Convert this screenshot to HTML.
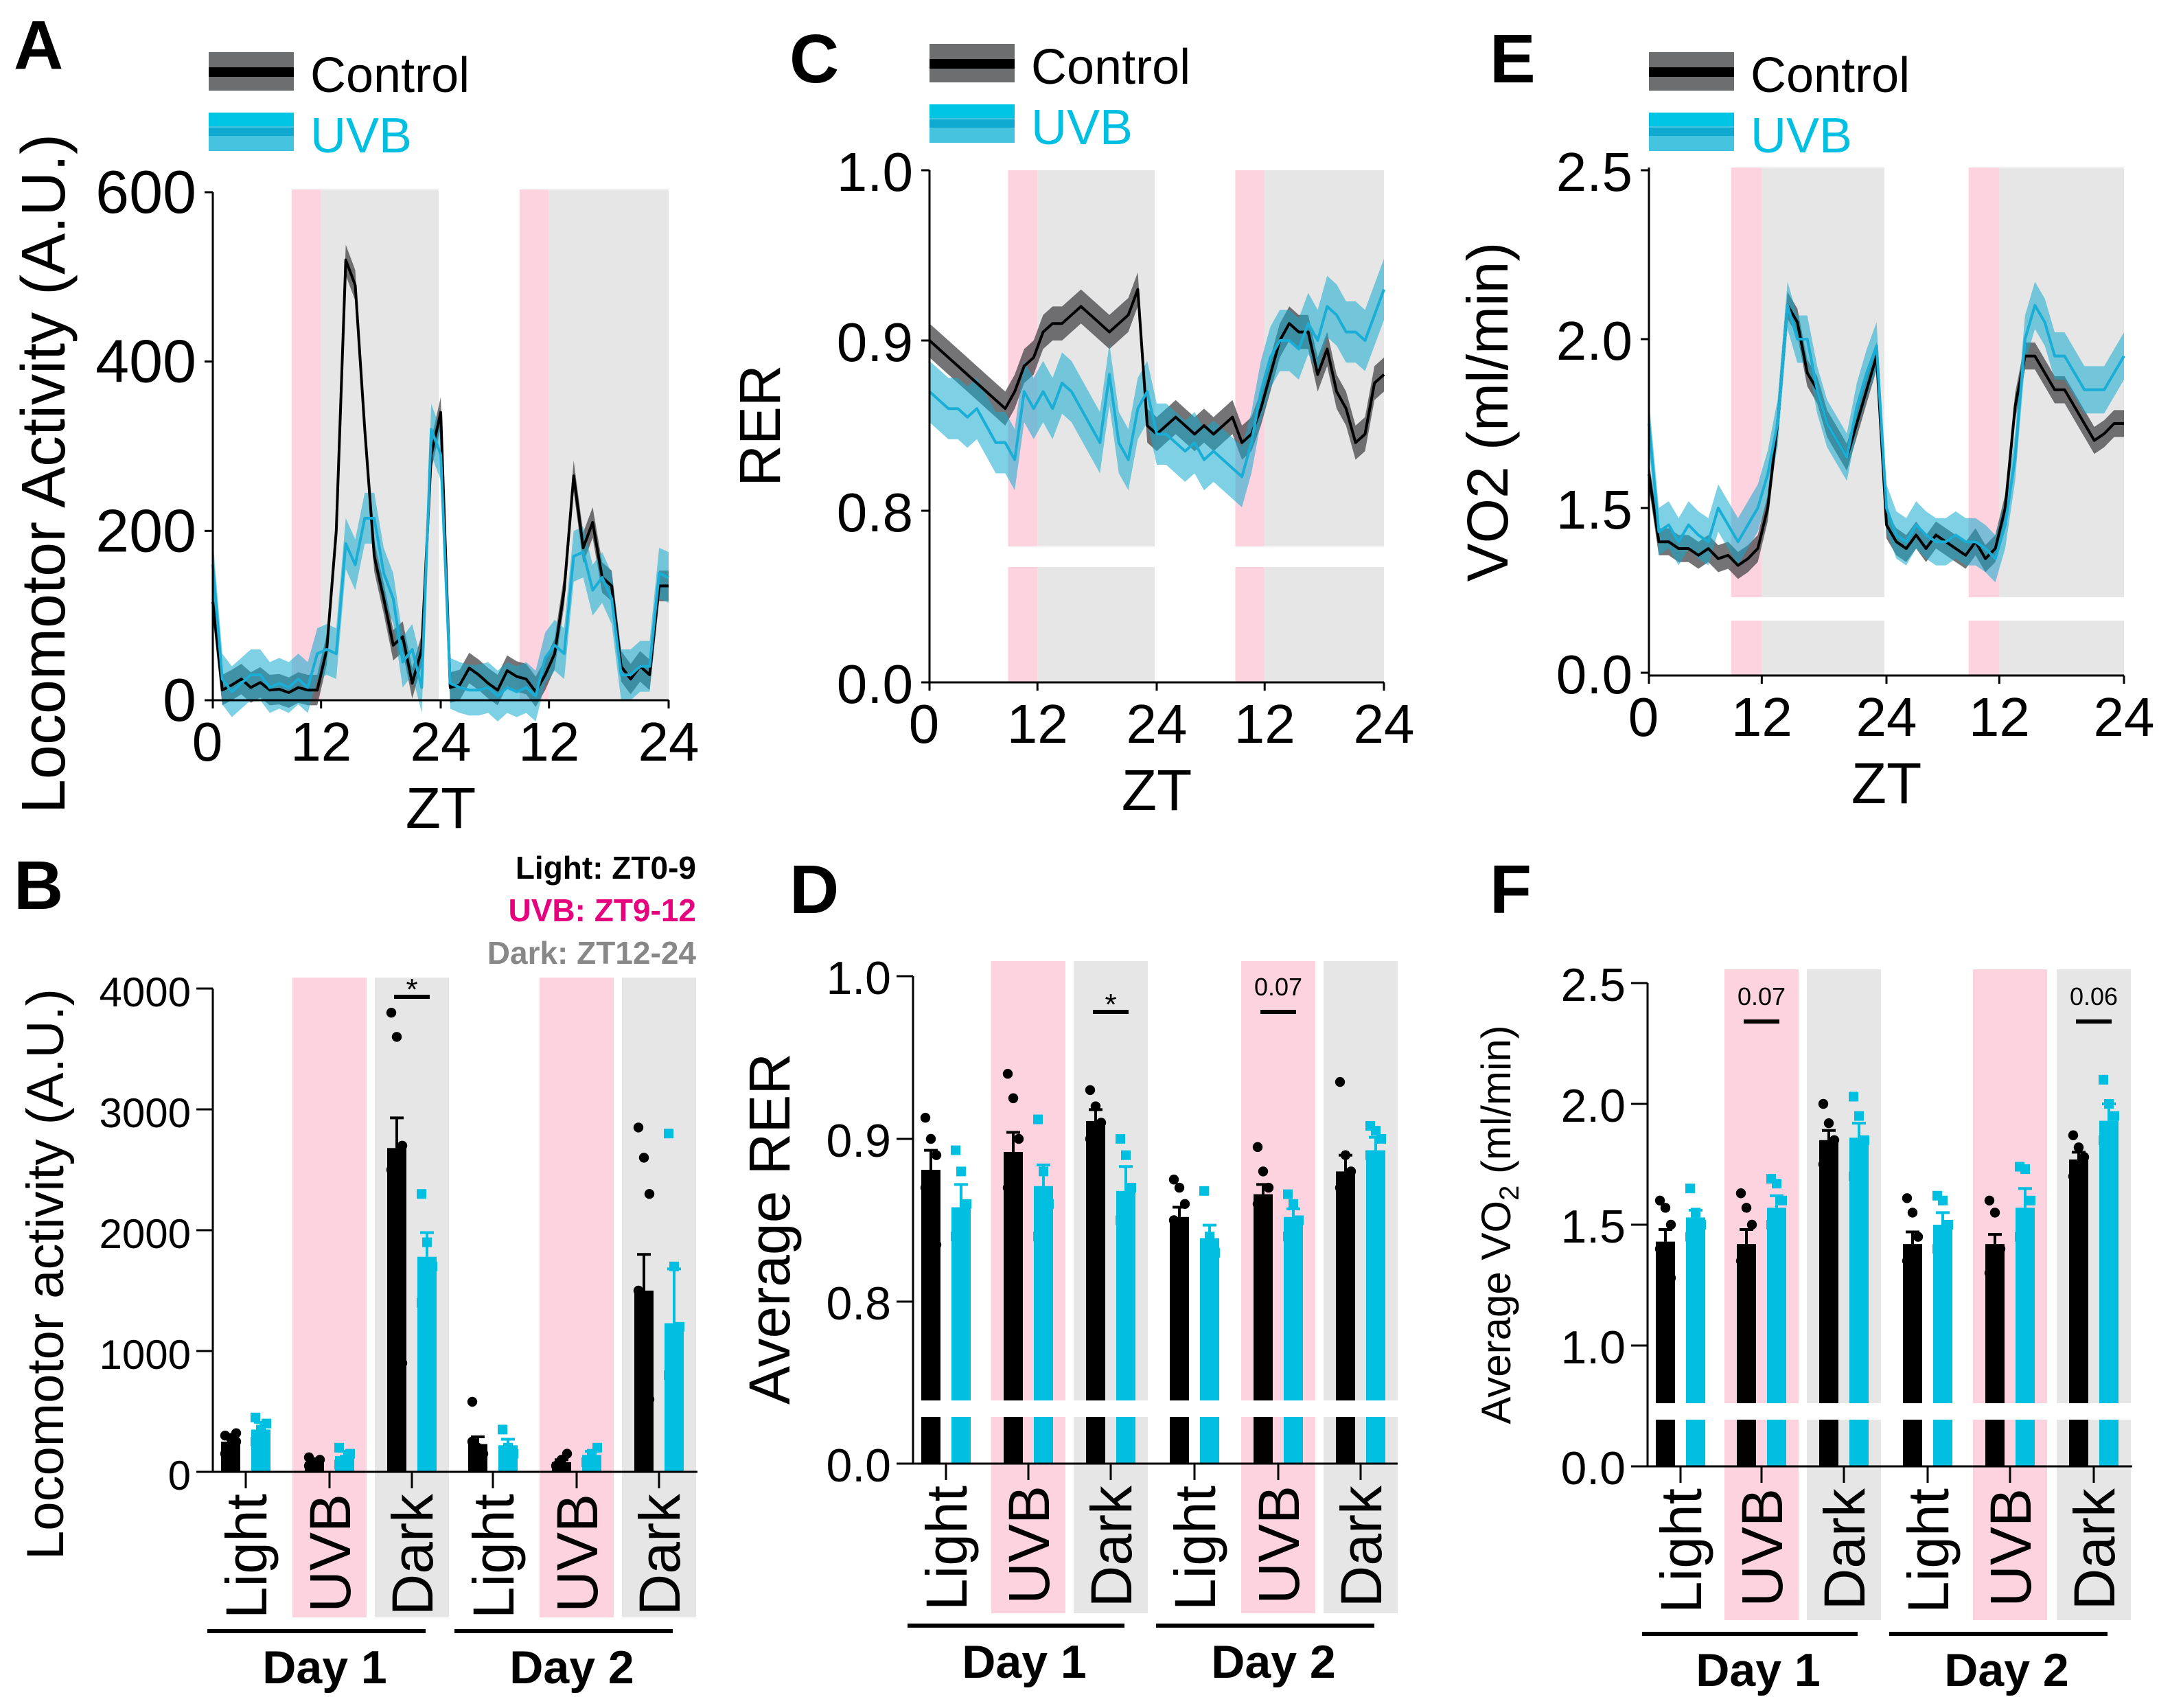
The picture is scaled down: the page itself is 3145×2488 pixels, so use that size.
<!DOCTYPE html>
<html><head><meta charset="utf-8"><style>
html,body{margin:0;padding:0;background:#fff;}
svg{display:block;font-family:"Liberation Sans",Arial,sans-serif;}
</style></head><body>
<svg id="fig" width="3145" height="2488" viewBox="0 0 1572.5 1244" xmlns="http://www.w3.org/2000/svg">
<rect width="1572.5" height="1244" fill="#fff"/>
</svg>
<script>
// ---------- Panel A: locomotor activity (hourly, 2 days) ----------
const aCtrl=[116,12,18,25,15,21,12,13,9,15,12,12,60,200,520,490,320,170,120,65,75,20,60,290,340,15,18,38,30,20,12,35,28,25,10,30,55,130,265,180,210,145,135,40,25,40,30,135,135];
const aUvb=[160,25,10,20,30,30,15,20,15,25,15,55,60,55,185,160,215,215,150,120,45,60,15,320,290,20,15,12,12,15,5,15,10,15,5,50,65,55,170,175,130,145,120,30,30,40,40,150,145];
const aCtrlErr=[18];
const aUvbErr=[30];
// ---------- Panel C: RER ----------
const cCtrl=[.9,.895,.89,.885,.88,.875,.87,.865,.86,.87,.885,.89,.905,.91,.91,.915,.92,.915,.91,.905,.91,.915,.93,.85,.845,.85,.855,.85,.845,.85,.845,.85,.855,.84,.845,.86,.88,.9,.91,.905,.905,.88,.895,.87,.86,.84,.845,.875,.88];
const cUvb=[.87,.865,.86,.86,.855,.86,.85,.84,.84,.83,.87,.86,.87,.86,.875,.87,.86,.85,.84,.88,.84,.83,.86,.87,.845,.845,.84,.835,.84,.83,.835,.83,.825,.82,.84,.87,.89,.9,.9,.895,.91,.9,.92,.915,.905,.905,.9,.915,.93];
const cCtrlErr=[0.01];
const cUvbErr=[0.018];
// ---------- Panel E: VO2 ----------
const eCtrl=[1.6,1.4,1.4,1.38,1.38,1.36,1.38,1.35,1.36,1.33,1.35,1.38,1.5,1.75,2.1,2.05,1.9,1.85,1.75,1.7,1.65,1.75,1.85,1.95,1.45,1.4,1.38,1.42,1.38,1.42,1.4,1.38,1.36,1.4,1.35,1.38,1.5,1.8,1.95,1.95,1.9,1.85,1.85,1.8,1.75,1.7,1.72,1.75,1.75];
const eUvb=[1.75,1.43,1.45,1.4,1.45,1.42,1.4,1.5,1.45,1.4,1.45,1.5,1.6,1.75,2.1,2.0,2.0,1.85,1.75,1.7,1.65,1.8,1.9,1.98,1.5,1.42,1.4,1.45,1.42,1.4,1.4,1.42,1.4,1.4,1.38,1.35,1.45,1.65,2.0,2.1,2.05,1.95,1.95,1.9,1.85,1.85,1.85,1.9,1.95];
const eCtrlErr=[0.04];
const eUvbErr=[0.07];
const timeTickLabels=["0","12","24","12","24"];
// ---------- Bar panels ----------
const barCategories=["Light","UVB","Dark","Light","UVB","Dark"];
const bCtrl=[250,80,2680,230,80,1500];
const bUvb=[350,130,1780,220,140,1230];
const bCtrlErr=[40,20,250,60,20,300];
const bUvbErr=[60,40,200,50,30,450];
const bCtrlDots=[[150,200,250,300,280,320],[50,80,100,120,60],[3800,3600,2700,2500,1600,900],[580,200,150,250],[50,100,150],[2850,2600,2300,1500,900,600]];
const bUvbDots=[[250,300,400,450,350],[60,100,150,200],[2300,1900,1700,1400,1100],[350,200,150],[80,150,200],[2800,1700,1200,800,400]];
const bTicks=[0,1000,2000,3000,4000];
const dCtrl=[.881,.892,.911,.852,.866,.88];
const dUvb=[.858,.871,.868,.839,.852,.893];
const dCtrlErr=[.012,.012,.007,.006,.006,.01];
const dUvbErr=[.014,.013,.015,.008,.005,.008];
const dCtrlDots=[[.913,.9,.89,.87,.86,.835],[.94,.925,.9,.87,.86],[.93,.92,.91,.9,.885],[.875,.87,.86,.85,.84],[.895,.88,.87,.86,.84],[.935,.89,.88,.87,.84]];
const dUvbDots=[[.893,.88,.86,.84,.82],[.912,.88,.86,.84],[.9,.89,.87,.85,.82],[.868,.84,.83],[.866,.86,.85,.84],[.908,.905,.9,.89,.88]];
const dTicks=[0.8,0.9,1.0];
const fCtrl=[1.43,1.42,1.85,1.42,1.42,1.77];
const fUvb=[1.53,1.57,1.86,1.5,1.57,1.93];
const fCtrlErr=[.05,.06,.04,.05,.04,.03];
const fUvbErr=[.03,.05,.06,.05,.08,.07];
const fCtrlDots=[[1.6,1.57,1.5,1.4,1.33,1.28],[1.63,1.57,1.5,1.35,1.25],[2.0,1.92,1.85,1.75,1.7],[1.61,1.55,1.45,1.35,1.28],[1.6,1.55,1.4,1.3,1.25],[1.87,1.82,1.78,1.7,1.65]];
const fUvbDots=[[1.65,1.55,1.5,1.45],[1.69,1.67,1.6,1.5,1.42],[2.03,1.95,1.85,1.7,1.65],[1.62,1.6,1.5,1.4,1.33],[1.74,1.73,1.6,1.45,1.33],[2.1,2.0,1.95,1.85,1.8]];
const fTicks=[1.0,1.5,2.0,2.5];

const NS="http://www.w3.org/2000/svg";
const svg=document.getElementById('fig');
const CY="#00bfe0", CYL="#1aaed6", PINK="#fdd3e0", GRAY="#e6e6e6";
function el(tag,attrs,parent){const e=document.createElementNS(NS,tag);for(const k in attrs)e.setAttribute(k,attrs[k]);(parent||svg).appendChild(e);return e;}
function txt(s,x,y,size,opts,parent){opts=opts||{};const t=el('text',{x:x,y:y,'font-size':size,fill:opts.fill||'#000','text-anchor':opts.anchor||'middle','font-weight':opts.bold?'bold':'normal'},parent);if(opts.rot)t.setAttribute('transform','rotate(-90 '+x+' '+y+')');t.textContent=s;return t;}

function panelLetter(g,s,x,y){const t=txt(s,x,y,50,{bold:true,anchor:'start'},g);}

function legend(g,x,y){
  el('rect',{x:x,y:y-15,width:62,height:28,fill:'#6d6e70'},g);
  el('rect',{x:x,y:y-4,width:62,height:7,fill:'#000'},g);
  const t1=txt('Control',x+74,y+14,36,{anchor:'start'},g);
  el('rect',{x:x,y:y+29,width:62,height:28,fill:'#46c3df'},g);
  el('rect',{x:x,y:y+29,width:62,height:10,fill:'#00c4e4'},g);
  el('rect',{x:x,y:y+40,width:62,height:6,fill:'#10a9cf'},g);
  const t2=txt('UVB',x+74,y+58,36,{anchor:'start',fill:CY},g);
}

function timePanel(cfg){
  const g=el('g',{});
  const xs=h=>cfg.x0+(h/48)*(cfg.x1-cfg.x0);
  cfg.segs.forEach(sg=>{
    [0,24].forEach(off=>{
      el('rect',{x:xs(off+8.3),y:sg[0],width:xs(off+11.4)-xs(off+8.3),height:sg[1]-sg[0],fill:PINK},g);
      el('rect',{x:xs(off+11.4),y:sg[0],width:xs(off+24)-xs(off+11.4)-(off===0?1.5:0),height:sg[1]-sg[0],fill:GRAY},g);
    });
  });
  function band(data,err,fill,name){
    let up=data.map((v,i)=>xs(i)+','+cfg.y(v+err[0])),dn=data.map((v,i)=>xs(i)+','+cfg.y(v-err[0])).reverse();
    const p=el('polygon',{points:up.concat(dn).join(' '),fill:fill},g);
  }
  function line(data,col,w,name){
    const p=el('polyline',{points:data.map((v,i)=>xs(i)+','+cfg.y(v)).join(' '),fill:'none',stroke:col,'stroke-width':w,'stroke-linejoin':'round'},g);
  }
  band(cfg.ctrl,cfg.ctrlErr,'rgba(70,70,72,0.75)','control-band');
  band(cfg.uvb,cfg.uvbErr,'rgba(20,170,205,0.55)','uvb-band');
  line(cfg.ctrl,'#000',2,'control-line');
  line(cfg.uvb,CYL,2,'uvb-line');
  el('line',{x1:cfg.x0,y1:cfg.yTop,x2:cfg.x0,y2:cfg.yBase,stroke:'#000','stroke-width':1.5},g);
  el('line',{x1:cfg.x0,y1:cfg.yBase,x2:cfg.x1,y2:cfg.yBase,stroke:'#000','stroke-width':1.5},g);
  cfg.yt.forEach((v,i)=>{const yy=cfg.yTickPos(v);el('line',{x1:cfg.x0-6,y1:yy,x2:cfg.x0,y2:yy,stroke:'#000','stroke-width':1.5},g);
    const t=txt(cfg.ytl[i],cfg.x0-12,yy+15,cfg.tsize||40,{anchor:'end'},g);});
  [0,11.4,24,35.4,48].forEach((h,i)=>{el('line',{x1:xs(h),y1:cfg.yBase,x2:xs(h),y2:cfg.yBase+6,stroke:'#000','stroke-width':1.5},g);
    const t=txt(timeTickLabels[i],xs(h)+(i==0?-4:0),cfg.yBase+44,40,{},g);});
  const xt=txt('ZT',(cfg.x0+cfg.x1)/2,cfg.yBase+93,42,{},g);
  const yt=txt(cfg.ytitle,cfg.ytx,cfg.yty,cfg.ytsize,{rot:true},g);
  panelLetter(g,cfg.letter,cfg.lx,cfg.ly);
  legend(g,cfg.legx,cfg.legy);
}

timePanel({name:'panel-a-locomotor-timecourse',x0:155,x1:487,yTop:140,yBase:510,y:v=>510-v/600*370,yTickPos:v=>510-v/600*370,tsize:44,
  yt:[0,200,400,600],ytl:['0','200','400','600'],segs:[[138,510]],ctrl:aCtrl,uvb:aUvb,ctrlErr:aCtrlErr,uvbErr:aUvbErr,
  ytitle:'Locomotor Activity (A.U.)',ytx:47,yty:345,ytsize:45,letter:'A',lx:10,ly:50,legx:152,legy:53});
timePanel({name:'panel-c-rer-timecourse',x0:677,x1:1008,yTop:124,yBase:497,y:v=>248-(v-0.9)*1240,
  yTickPos:v=>v===0?497:248-(v-0.9)*1240,yt:[0,0.8,0.9,1.0],ytl:['0.0','0.8','0.9','1.0'],segs:[[124,398],[413,497]],
  ctrl:cCtrl,uvb:cUvb,ctrlErr:cCtrlErr,uvbErr:cUvbErr,ytitle:'RER',ytx:568,yty:310,ytsize:42,letter:'C',lx:575,ly:60,legx:677,legy:47});
timePanel({name:'panel-e-vo2-timecourse',x0:1201,x1:1547,yTop:122,yBase:492,y:v=>247-(v-2)*246,
  yTickPos:v=>v===0?490:247-(v-2)*246,yt:[0,1.5,2.0,2.5],ytl:['0.0','1.5','2.0','2.5'],segs:[[122,435],[452,492]],
  ctrl:eCtrl,uvb:eUvb,ctrlErr:eCtrlErr,uvbErr:eUvbErr,ytitle:'VO2 (ml/min)',ytx:1098,yty:300,ytsize:42,letter:'E',lx:1085,ly:60,legx:1201,legy:53});

function barPanel(cfg){
  const g=el('g',{});
  const bw=14;
  [1,2,4,5].forEach(i=>{const c=cfg.cx[i];el('rect',{x:c-27,y:cfg.shTop,width:54,height:cfg.shBot-cfg.shTop,fill:(i%3==1)?PINK:GRAY},g);});
  for(let i=0;i<6;i++){
    [[cfg.ctrl,cfg.ctrlErr,cfg.ctrlDots,'#000',-11,'control'],[cfg.uvb,cfg.uvbErr,cfg.uvbDots,CY,11,'uvb']].forEach(s=>{
      const x=cfg.cx[i]+s[4],v=s[0][i],yv=cfg.y(v);
      const r=el('rect',{x:x-bw/2,y:yv,width:bw,height:cfg.yBase-yv,fill:s[3]},g);
      
      el('line',{x1:x,y1:yv,x2:x,y2:cfg.y(v+s[1][i]),stroke:s[3],'stroke-width':2},g);
      el('line',{x1:x-5,y1:cfg.y(v+s[1][i]),x2:x+5,y2:cfg.y(v+s[1][i]),stroke:s[3],'stroke-width':2},g);
      s[2][i].forEach((d,k)=>{const dx=x+((k%3)-1)*4;
        if(s[5]=='control'){const c=el('circle',{cx:dx,cy:cfg.y(d),r:3.6,fill:'#000'},g);}
        else{const c=el('rect',{x:dx-3.5,y:cfg.y(d)-3.5,width:7,height:7,fill:CY},g);}
      });
    });
  }
  if(cfg.brk){el('rect',{x:cfg.x0+2,y:cfg.brk[0],width:cfg.x1-cfg.x0,height:cfg.brk[1]-cfg.brk[0],fill:'#fff'},g);}
  el('line',{x1:cfg.x0,y1:cfg.yTop,x2:cfg.x0,y2:cfg.yBase,stroke:'#000','stroke-width':1.5},g);
  el('line',{x1:cfg.x0-12,y1:cfg.yBase,x2:cfg.x1,y2:cfg.yBase,stroke:'#000','stroke-width':1.5},g);
  cfg.ticks.forEach((v,i)=>{const yy=cfg.y(v);el('line',{x1:cfg.x0-12,y1:yy,x2:cfg.x0,y2:yy,stroke:'#000','stroke-width':1.5},g);
    const t=txt(cfg.tl[i],cfg.x0-16,yy+13,cfg.tsize,{anchor:'end'},g);});
  if(cfg.zeroLabel){const t=txt(cfg.zeroLabel,cfg.x0-16,cfg.yBase+13,cfg.tsize,{anchor:'end'},g);}
  barCategories.forEach((c,i)=>{const x=cfg.cx[i];el('line',{x1:x,y1:cfg.yBase,x2:x,y2:cfg.yBase+12,stroke:'#000','stroke-width':1.5},g);
    const t=txt(c,x+15,cfg.yBase+16,42,{anchor:'end',rot:true},g);});
  [[0,'Day 1'],[3,'Day 2']].forEach(d=>{const a=cfg.cx[d[0]]-28,b=cfg.cx[d[0]+2]+10;
    el('line',{x1:a,y1:cfg.dayY,x2:b,y2:cfg.dayY,stroke:'#000','stroke-width':3},g);
    const t=txt(d[1],(a+b)/2+6,cfg.dayY+38,34,{bold:true},g);});
  cfg.sig.forEach(s=>{const x=cfg.cx[s[0]];el('line',{x1:x-13,y1:s[1],x2:x+13,y2:s[1],stroke:'#000','stroke-width':3},g);
    const t=txt(s[2],x,s[1]-(s[2]=='*'?-2:12),s[2]=='*'?22:18,{},g);});
  const yt=txt(cfg.ytitle,cfg.ytx,cfg.yty,cfg.ytsize,{rot:true},g);
  if(cfg.sub){yt.textContent='Average VO';const s1=el('tspan',{'font-size':20,dy:6},yt);s1.textContent='2';const s2=el('tspan',{dy:-6},yt);s2.textContent=' (ml/min)';}
  panelLetter(g,cfg.letter,cfg.lx,cfg.ly);
  return g;
}

barPanel({name:'panel-b-locomotor-bars',x0:155,x1:508,yTop:720,yBase:1072,y:v=>1072-v/4000*352,ticks:[1000,2000,3000,4000],tl:['1000','2000','3000','4000'],zeroLabel:'0',tsize:30,
  cx:[179,240,300,359,420,480],shTop:712,shBot:1178,ctrl:bCtrl,uvb:bUvb,ctrlErr:bCtrlErr,uvbErr:bUvbErr,ctrlDots:bCtrlDots,uvbDots:bUvbDots,
  dayY:1188,sig:[[2,726,'*']],ytitle:'Locomotor activity (A.U.)',ytx:46,yty:928,ytsize:38,letter:'B',lx:10,ly:662});
barPanel({name:'panel-d-rer-bars',x0:665,x1:1018,yTop:711,yBase:1066,y:v=>v<0.5?1066:948-(v-0.8)*1185,ticks:dTicks,tl:['0.8','0.9','1.0'],zeroLabel:'0.0',tsize:34,
  cx:[689,749,809,870,931,991],shTop:700,shBot:1175,brk:[1020,1032],ctrl:dCtrl,uvb:dUvb,ctrlErr:dCtrlErr,uvbErr:dUvbErr,ctrlDots:dCtrlDots,uvbDots:dUvbDots,
  dayY:1184,sig:[[2,737,'*'],[4,737,'0.07']],ytitle:'Average RER',ytx:575,yty:895,ytsize:42,letter:'D',lx:575,ly:665});
barPanel({name:'panel-f-vo2-bars',x0:1200,x1:1553,yTop:716,yBase:1068,y:v=>v<0.5?1068:892-(v-1.5)*176,ticks:fTicks,tl:['1.0','1.5','2.0','2.5'],zeroLabel:'0.0',tsize:34,
  cx:[1224,1283,1343,1404,1464,1525],shTop:706,shBot:1180,brk:[1022,1034],ctrl:fCtrl,uvb:fUvb,ctrlErr:fCtrlErr,uvbErr:fUvbErr,ctrlDots:fCtrlDots,uvbDots:fUvbDots,
  dayY:1190,sig:[[1,744,'0.07'],[5,744,'0.06']],ytitle:'Average VO2 (ml/min)',ytx:1100,yty:892,ytsize:30,sub:true,letter:'F',lx:1085,ly:665});

[['Light: ZT0-9','#000',640],['UVB: ZT9-12','#e6007e',671],['Dark: ZT12-24','#888',702]].forEach(l=>{
  const t=txt(l[0],507,l[2],23,{anchor:'end',bold:true,fill:l[1]});
  
  
});
</script>
</body></html>
